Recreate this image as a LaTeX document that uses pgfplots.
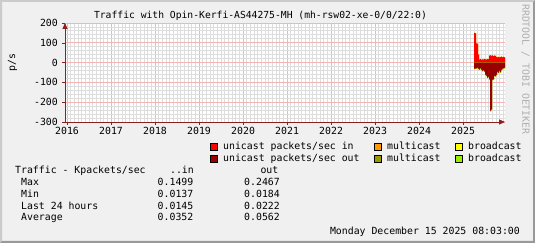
\documentclass[border=0pt]{standalone}
\usepackage{pgfplots}
\pgfplotsset{compat=1.18}
\usepackage{pgfplotstable}
\usepackage{fontspec}
\usetikzlibrary{arrows.meta}
\setmainfont{DejaVu Sans Mono}
\newcommand{\rf}{\fontsize{9.85}{11}\selectfont}
\definecolor{bg}{HTML}{F0F0F0}
\definecolor{shadea}{HTML}{CBCBCB}
\definecolor{shadeb}{HTML}{999999}
\definecolor{axiscol}{HTML}{8B2020}
\definecolor{mgrid}{HTML}{F4B4B4}
\definecolor{sgrid}{HTML}{DDDDDD}
\definecolor{wmark}{HTML}{AFAFAF}
\definecolor{cuin}{HTML}{FF0000}
\definecolor{cuout}{HTML}{990000}
\definecolor{cmin}{HTML}{FF9900}
\definecolor{cmout}{HTML}{999900}
\definecolor{cbin}{HTML}{FFFF00}
\definecolor{cbout}{HTML}{99EE00}

% x: decimal year
\pgfplotstableread{
x        uin  min  bin  uout  mout  bout
2025.250 150  0.4  0.3  30    1.0   3.0
2025.273 148  0.4  0.3  29    1.0   3.0
2025.295 97   0.4  0.3  28    1.0   3.0
2025.318 95   0.4  0.3  26    1.0   3.0
2025.341 40   0.4  0.3  31    1.0   3.0
2025.364 15   0.3  0.2  34    1.5   2.5
2025.386 17   0.3  0.2  28    1.5   2.5
2025.409 14   0.3  0.2  36    1.5   2.5
2025.432 16   0.3  0.2  41    1.5   2.5
2025.455 15   0.3  0.2  38    1.5   2.5
2025.477 18   0.3  0.2  44    1.5   2.5
2025.500 16   0.3  0.2  61    1.5   2.5
2025.523 15   0.3  0.2  66    1.5   2.5
2025.545 17   0.3  0.2  76    1.5   2.5
2025.568 18   0.3  0.2  71    1.5   2.5
2025.591 35   0.3  0.2  84    1.5   2.5
2025.614 37   0.3  0.2  243   1.5   2.5
2025.636 34   0.3  0.2  236   1.5   2.5
2025.659 36   0.3  0.2  86    1.5   2.5
2025.682 33   0.3  0.2  84    1.5   2.5
2025.705 35   0.3  0.2  66    1.5   2.5
2025.727 34   0.3  0.2  68    1.5   2.5
2025.750 28   0.3  0.2  61    1.5   2.5
2025.773 27   0.3  0.2  46    1.5   2.5
2025.795 29   0.3  0.2  51    1.5   2.5
2025.818 26   0.3  0.2  41    1.5   2.5
2025.841 28   0.3  0.2  48    1.5   2.5
2025.864 30   0.3  0.2  36    1.5   2.5
2025.886 27   0.3  0.2  31    1.5   2.5
2025.909 29   0.3  0.2  28    1.5   2.5
2025.932 27   0.3  0.2  26    1.5   2.5
2025.953 27   0.3  0.2  26    1.5   2.5
}\traffic

\begin{document}
\begin{tikzpicture}[x=1pt,y=1pt]
\path[use as bounding box] (0,0) rectangle (535,243);
\fill[bg] (0,0) rectangle (535,243);
\fill[shadea] (0,0) -- (0,243) -- (535,243) -- (533,241) -- (2,241) -- (2,2) -- cycle;
\fill[shadeb] (0,0) -- (535,0) -- (535,243) -- (533,241) -- (533,2) -- (2,2) -- cycle;
\fill[white] (65,121) rectangle (505,220);
% vertical grid: months (minor) and years (major), 44pt per year, Jan 2016 at 67.07pt
\foreach \m in {1,...,119} {
  \draw[sgrid, line width=0.9pt] ({67.07+\m*3.6667},121) -- ++(0,99);
}
\foreach \yr in {0,...,9} {
  \draw[mgrid, line width=0.9pt] ({67.07+\yr*44},121) -- ++(0,99);
}

% axis x unit: years after 2016
\begin{axis}[
  at={(65pt,121pt)}, anchor=south west,
  scale only axis, width=440pt, height=99pt,
  xmin=-0.047, xmax=9.953, ymin=-300, ymax=200,
  axis x line=bottom, axis y line=left,
  axis line style={draw=axiscol, line width=0.9pt},
  every outer x axis line/.append style={-{Triangle[length=6pt,width=5pt]}},
  every outer y axis line/.append style={-{Triangle[length=6pt,width=5pt]}},
  xtick={0,1,2,3,4,5,6,7,8,9},
  xticklabels={2016,2017,2018,2019,2020,2021,2022,2023,2024,2025},
  ytick={-300,-200,-100,0,100,200},
  yticklabels={-300,-200,-100,0,100,200},
  minor y tick num=4,
  ymajorgrids, yminorgrids,
  major grid style={mgrid, line width=0.9pt},
  minor grid style={sgrid, line width=0.9pt},
  tick align=outside, major tick length=3pt, minor tick length=0pt,
  major tick style={axiscol},
  ticklabel style={font=\rf, inner sep=0pt},
  yticklabel style={anchor=east, xshift=-4pt},
  xticklabel style={anchor=north, yshift=-1.5pt},
]
% inbound (positive), stacked: unicast + multicast + broadcast
\addplot[const plot, draw=none, fill=cbin] table[x expr=\thisrow{x}-2016, y expr=\thisrow{uin}+\thisrow{min}+\thisrow{bin}] {\traffic} \closedcycle;
\addplot[const plot, draw=none, fill=cmin] table[x expr=\thisrow{x}-2016, y expr=\thisrow{uin}+\thisrow{min}] {\traffic} \closedcycle;
\addplot[const plot, draw=none, fill=cuin] table[x expr=\thisrow{x}-2016, y=uin] {\traffic} \closedcycle;
% outbound (negative), stacked
\addplot[const plot, draw=none, fill=cbout] table[x expr=\thisrow{x}-2016, y expr=-\thisrow{uout}-\thisrow{mout}-\thisrow{bout}] {\traffic} \closedcycle;
\addplot[const plot, draw=none, fill=cmout] table[x expr=\thisrow{x}-2016, y expr=-\thisrow{uout}-\thisrow{mout}] {\traffic} \closedcycle;
\addplot[const plot, draw=none, fill=cuout] table[x expr=\thisrow{x}-2016, y expr=-\thisrow{uout}] {\traffic} \closedcycle;
\end{axis}

% title
\node[anchor=base, inner sep=0pt, font=\fontsize{9.7}{11}\selectfont] at (260.5,224) {Traffic with Opin-Kerfi-AS44275-MH (mh-rsw02-xe-0/0/22:0)};
% y label
\node[rotate=90, inner sep=0pt, font=\rf] at (12.5,180.5) {p/s};
% watermark
\node[rotate=-90, anchor=west, inner sep=0pt, text=wmark, font=\rf] at (525.5,239) {RRDTOOL / TOBI OETIKER};

% legend
\draw[fill=cuin, draw=black, line width=0.8pt] (210.5,92.5) rectangle ++(7,7);
\node[anchor=base west, inner sep=0pt, font=\rf] at (223,93) {unicast packets/sec in};
\draw[fill=cmin, draw=black, line width=0.8pt] (374.5,92.5) rectangle ++(7,7);
\node[anchor=base west, inner sep=0pt, font=\rf] at (387,93) {multicast};
\draw[fill=cbin, draw=black, line width=0.8pt] (455.5,92.5) rectangle ++(7,7);
\node[anchor=base west, inner sep=0pt, font=\rf] at (468,93) {broadcast};
\draw[fill=cuout, draw=black, line width=0.8pt] (210.5,81) rectangle ++(7,7);
\node[anchor=base west, inner sep=0pt, font=\rf] at (223,81.3) {unicast packets/sec out};
\draw[fill=cmout, draw=black, line width=0.8pt] (374.5,81) rectangle ++(7,7);
\node[anchor=base west, inner sep=0pt, font=\rf] at (387,81.3) {multicast};
\draw[fill=cbout, draw=black, line width=0.8pt] (455.5,81) rectangle ++(7,7);
\node[anchor=base west, inner sep=0pt, font=\rf] at (468,81.3) {broadcast};

% stats
\begin{scope}[every node/.style={inner sep=0pt, font=\rf}]
\node[anchor=base west] at (15,69) {Traffic - Kpackets/sec};
\node[anchor=base east] at (194,69) {..in};
\node[anchor=base east] at (278.5,69) {out};
\node[anchor=base west] at (21,57.3) {Max};
\node[anchor=base east] at (193.5,57.3) {0.1499};
\node[anchor=base east] at (280,57.3) {0.2467};
\node[anchor=base west] at (21,45.6) {Min};
\node[anchor=base east] at (193.5,45.6) {0.0137};
\node[anchor=base east] at (280,45.6) {0.0184};
\node[anchor=base west] at (21,33.9) {Last 24 hours};
\node[anchor=base east] at (193.5,33.9) {0.0145};
\node[anchor=base east] at (280,33.9) {0.0222};
\node[anchor=base west] at (21,22.2) {Average};
\node[anchor=base east] at (193.5,22.2) {0.0352};
\node[anchor=base east] at (280,22.2) {0.0562};
\node[anchor=base east] at (520,8.7) {Monday December 15 2025 08:03:00};
\end{scope}
\end{tikzpicture}
\end{document}
